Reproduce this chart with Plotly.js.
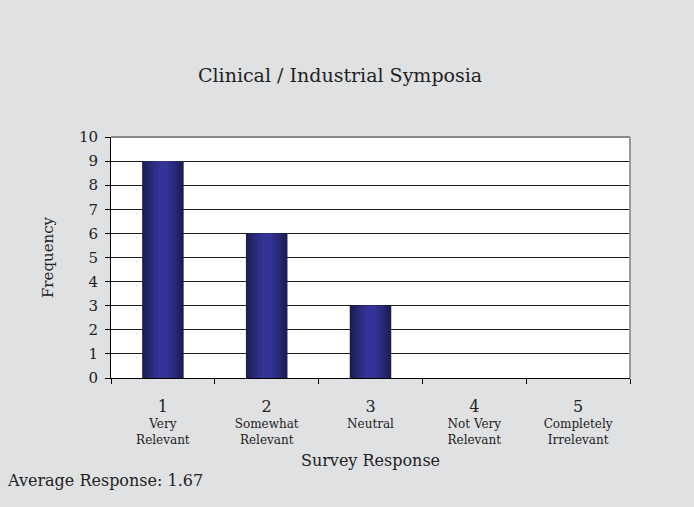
<!DOCTYPE html>
<html>
<head>
<meta charset="utf-8">
<script src="https://cdn.plot.ly/plotly-3.0.1.min.js"></script>
<style>html,body{margin:0;padding:0;background:#fff;}#chart{width:694px;height:507px;}</style>
</head>
<body>
<div id="chart"></div>
<script>
const categories = ["1", "2", "3", "4", "5"];
const descriptions = ["Very<br>Relevant", "Somewhat<br>Relevant", "Neutral", "Not Very<br>Relevant", "Completely<br>Irrelevant"];
const frequency = [9, 6, 3, 0, 0];
const averageResponse = 1.67;

const tickText = categories.map((c, i) =>
  "<span style='font-size:16px'>" + c + "</span><br>" + descriptions[i]);

// layered bars to mimic the horizontal shading of the original bars
const layers = [
  {w: 0.40, c: "#1d1d52"},
  {w: 0.36, c: "#20205c"},
  {w: 0.31, c: "#252569"},
  {w: 0.25, c: "#2a2a7a"},
  {w: 0.18, c: "#2f2f8a"},
  {w: 0.10, c: "#343498"}
];
const traces = layers.map(l => ({
  type: "bar",
  x: categories,
  y: frequency,
  width: l.w,
  marker: {color: l.c, line: {width: 0}},
  hoverinfo: "skip",
  showlegend: false
}));

const font = "DejaVu Serif, Liberation Serif, serif";

const layout = {
  width: 694, height: 507,
  paper_bgcolor: "#e0e1e3",
  plot_bgcolor: "#ffffff",
  barmode: "overlay",
  margin: {l: 111, r: 64, t: 137, b: 129},
  font: {family: font, color: "#222222"},
  title: {text: "Clinical / Industrial Symposia", font: {family: font, size: 19, color: "#222"}, x: 0.49, xanchor: "center", y: 0.852, yanchor: "middle"},
  xaxis: {
    type: "category",
    tickvals: categories,
    ticktext: tickText,
    tickson: "boundaries",
    ticks: "outside", ticklen: 5, tickcolor: "#000",
    ticklabelstandoff: 19,
    showline: true, linecolor: "#000", linewidth: 1,
    showgrid: false, zeroline: false,
    tickfont: {family: font, size: 12, color: "#222"},
    range: [-0.5, 4.5],
    title: {text: "Survey Response", font: {family: font, size: 16, color: "#222"}, standoff: 9}
  },
  yaxis: {
    range: [0, 10], dtick: 1, tick0: 0,
    ticks: "outside", ticklen: 5, tickcolor: "#000",
    ticklabelstandoff: 4,
    showline: true, linecolor: "#000", linewidth: 1,
    showgrid: true, gridcolor: "#1a1a1a", gridwidth: 1,
    zeroline: false,
    tickfont: {family: font, size: 15, color: "#222"},
    title: {text: "Frequency", font: {family: font, size: 15, color: "#222"}, standoff: 21}
  },
  shapes: [
    {type: "line", xref: "paper", yref: "paper", x0: 0, x1: 1, y0: 1, y1: 1, line: {color: "#888", width: 2}},
    {type: "line", xref: "paper", yref: "paper", x0: 1, x1: 1, y0: 0, y1: 1, line: {color: "#999", width: 2}}
  ],
  annotations: [{
    text: "Average Response: " + averageResponse.toFixed(2),
    xref: "paper", yref: "paper",
    x: -0.204, y: -0.425, xanchor: "left", yanchor: "middle",
    showarrow: false, font: {family: font, size: 16, color: "#222"}
  }]
};

Plotly.newPlot("chart", traces, layout, {displayModeBar: false, staticPlot: true});
</script>
</body>
</html>
